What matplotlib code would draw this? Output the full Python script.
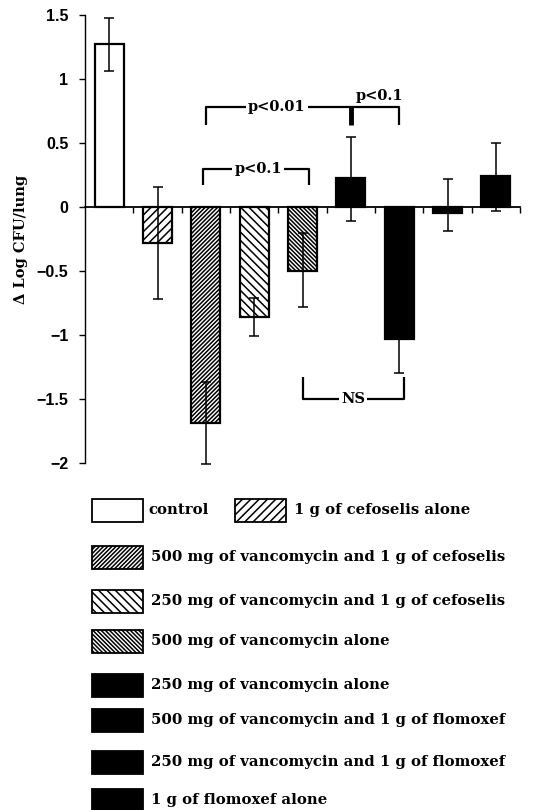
import numpy as np
import matplotlib
matplotlib.use("Agg")
import matplotlib.pyplot as plt
from matplotlib.patches import Rectangle

# values
groups = [
    "control",
    "1 g of cefoselis alone",
    "500 mg of vancomycin and 1 g of cefoselis",
    "250 mg of vancomycin and 1 g of cefoselis",
    "500 mg of vancomycin alone",
    "250 mg of vancomycin alone",
    "500 mg of vancomycin and 1 g of flomoxef",
    "250 mg of vancomycin and 1 g of flomoxef",
    "1 g of flomoxef alone",
]
delta_log = [1.27, -0.28, -1.69, -0.86, -0.50, 0.23, -1.03, -0.045, 0.24]
err_low = [0.21, 0.44, 0.32, 0.15, 0.28, 0.34, 0.27, 0.14, 0.27]
err_high = [0.21, 0.44, 0.32, 0.15, 0.30, 0.32, 0.27, 0.26, 0.26]
yticks = [-2, -1.5, -1, -0.5, 0, 0.5, 1, 1.5]
ytick_labels = ["\u22122", "\u22121.5", "\u22121", "\u22120.5", "0", "0.5", "1", "1.5"]

# fill / hatch per group
faces = ["white", "white", "white", "white", "white", "black", "black", "black", "black"]
hatches = ["", "////", "////////", "\\\\\\\\", "\\\\\\\\\\\\\\\\", "", "", "", ""]

SERIF = "DejaVu Serif"
plt.rcParams["hatch.linewidth"] = 1.1

W, H = 534, 810
fig = plt.figure(figsize=(W / 100, H / 100), dpi=100)
ax = fig.add_axes([85 / W, 1 - 463 / H, (520 - 85) / W, (463 - 15) / H])

x = np.arange(len(groups))
ax.bar(x, delta_log, width=0.6, color=faces, edgecolor="black",
       linewidth=1.6, hatch=hatches, zorder=2)
ax.errorbar(x, delta_log, yerr=[err_low, err_high], fmt="none",
            ecolor="black", elinewidth=1.1, capsize=3.5, capthick=1.1,
            zorder=3, clip_on=False)

ax.set_xlim(-0.5, 8.5)
ax.set_ylim(-2, 1.5)
ax.spines["top"].set_visible(False)
ax.spines["right"].set_visible(False)
ax.spines["bottom"].set_position(("data", 0))
ax.spines["bottom"].set_linewidth(1.3)
ax.spines["left"].set_linewidth(1.0)
ax.set_xticks(np.arange(0.5, 9, 1))
ax.set_xticklabels([])
ax.tick_params(axis="x", direction="out", length=4, width=1.0)
ax.set_yticks(yticks)
ax.set_yticklabels(ytick_labels, family="Liberation Sans", fontsize=11.5,
                   fontweight="bold")
ax.tick_params(axis="y", direction="out", length=4, width=1.0, pad=8)
ax.set_ylabel("\u0394 Log CFU/lung", family=SERIF, fontweight="bold",
              fontsize=10.5, labelpad=6)

# significance brackets
bk = dict(color="black", lw=1.6, solid_capstyle="butt", clip_on=False)
txt = dict(family=SERIF, fontweight="bold", fontsize=10.5,
           ha="center", va="center")

ax.plot([2, 2, 6, 6], [0.64, 0.78, 0.78, 0.64], **bk)
ax.plot([5, 5], [0.78, 0.64], color="black", lw=3.5, solid_capstyle="butt")
ax.text(3.47, 0.78, "p<0.01", bbox=dict(fc="white", ec="none", pad=1.5), **txt)
ax.text(5.6, 0.87, "p<0.1", **txt)

ax.plot([1.94, 1.94, 4.14, 4.14], [0.17, 0.30, 0.30, 0.17], **bk)
ax.text(3.08, 0.30, "p<0.1", bbox=dict(fc="white", ec="none", pad=1.5), **txt)

ax.plot([4.0, 4.0, 6.1, 6.1], [-1.33, -1.50, -1.50, -1.33], **bk)
ax.text(5.05, -1.50, "NS", bbox=dict(fc="white", ec="none", pad=1.5), **txt)

# legend drawn in figure pixel coordinates
lg = fig.add_axes([0, 0, 1, 1], facecolor="none")
lg.set_xlim(0, W)
lg.set_ylim(H, 0)
lg.axis("off")

rows = [(92, 510), (235, 510), (92, 557), (92, 601), (92, 641),
        (92, 685), (92, 720), (92, 762), (92, 800)]
for i, (name, (px, py)) in enumerate(zip(groups, rows)):
    lg.add_patch(Rectangle((px, py - 11.5), 51, 23, facecolor=faces[i],
                           edgecolor="black", linewidth=1.3, hatch=hatches[i]))
    lg.text(px + (56 if i == 0 else 59), py, name, family=SERIF,
            fontweight="bold", fontsize=10.7, va="center", ha="left")

fig.savefig("out.png", dpi=100)
